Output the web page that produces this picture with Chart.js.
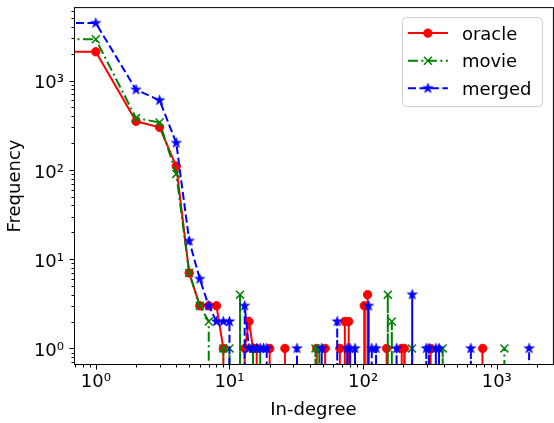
<!DOCTYPE html>
<html>
<head>
<meta charset="utf-8">
<script src="https://cdn.jsdelivr.net/npm/chart.js@4/dist/chart.umd.min.js"></script>
<style>
  html, body { margin: 0; padding: 0; background: #fff; overflow: hidden; }
  #wrap { width: 554px; height: 423px; overflow: hidden; }
  canvas { display: block; }
</style>
</head>
<body>
<div id="wrap"><canvas id="degreeChart" width="560" height="423"></canvas></div>
<script>
// in-degree -> number of nodes, per graph (degrees not listed have frequency 0)
const oracleDegree = [0, 1, 2, 3, 4, 5, 6, 7, 8, 9, 13, 14, 15, 16, 20, 26, 45, 52, 67, 73, 78, 102, 108, 150, 194, 203, 320, 785];
const oracleFreq   = [1500, 2100, 350, 300, 110, 7, 3, 3, 3, 1, 1, 2, 1, 1, 1, 1, 1, 1, 1, 2, 2, 3, 4, 1, 1, 1, 1, 1];

const movieDegree = [0, 1, 2, 3, 4, 5, 6, 7, 9, 10, 12, 15, 17, 44, 47, 153, 164, 232, 394, 1140];
const movieFreq   = [2000, 2900, 380, 340, 90, 7, 3, 2, 1, 1, 4, 1, 1, 1, 1, 4, 2, 1, 1, 1];

const mergedDegree = [0, 1, 2, 3, 4, 5, 6, 7, 8, 9, 10, 13, 14, 15, 16, 17, 18, 19, 32, 49, 64, 76, 80, 87, 110, 116, 125, 178, 233, 297, 311, 350, 370, 640, 1745];
const mergedFreq   = [3500, 4400, 790, 600, 200, 16, 6, 3, 2, 2, 2, 3, 1, 1, 1, 1, 1, 1, 1, 1, 2, 1, 1, 1, 3, 1, 1, 1, 4, 1, 1, 1, 1, 1, 1];

const seriesNames = ['oracle', 'movie', 'merged'];

// axis limits (log scale)
const X_MIN = 0.687, X_MAX = 2630;
const Y_MIN = 0.652, Y_MAX = 6650;

// zero can't sit on a log axis: push it far outside so lines drop straight off the plot
const LOG_FLOOR = 1e-300;
const FONT = { family: 'DejaVu Sans', size: 18 };

function frequencyTable(degrees, freqs) {
  const table = new Array(Math.max(...degrees) + 1).fill(0);
  degrees.forEach((d, i) => { table[d] = freqs[i]; });
  return table.map((c, d) => ({ x: d > 0 ? d : LOG_FLOOR, y: c > 0 ? c : LOG_FLOOR }));
}

function starImage(color, outer) {
  const c = document.createElement('canvas');
  const s = Math.ceil(outer * 2 + 2);
  c.width = c.height = s;
  const g = c.getContext('2d');
  const inner = outer * 0.382;
  g.beginPath();
  for (let i = 0; i < 10; i++) {
    const r = i % 2 ? inner : outer;
    const a = -Math.PI / 2 + i * Math.PI / 5;
    g.lineTo(s / 2 + r * Math.cos(a), s / 2 + r * Math.sin(a));
  }
  g.closePath();
  g.fillStyle = color;
  g.fill();
  g.strokeStyle = color;
  g.lineWidth = 0.8;
  g.stroke();
  return c;
}

const supDigits = { '-': '⁻', '0': '⁰', '1': '¹', '2': '²', '3': '³', '4': '⁴', '5': '⁵' };
function powerLabel(v) {
  const e = Math.log10(v);
  if (Math.abs(e - Math.round(e)) > 1e-9) return '';
  return '10' + String(Math.round(e)).split('').map(ch => supDigits[ch]).join('');
}

function logTicks(min, max) {
  const ticks = [];
  for (let k = Math.floor(Math.log10(min)); k <= Math.ceil(Math.log10(max)); k++) {
    for (let m = 1; m <= 9; m++) {
      const v = m * Math.pow(10, k);
      if (v >= min && v <= max) ticks.push({ value: v, major: m === 1 });
    }
  }
  return ticks;
}

const styles = [
  { color: '#ff0000', dash: [], pointStyle: 'circle', radius: 4.2, borderWidth: 1 },
  { color: '#008000', dash: [10, 3.5, 2, 3.5], pointStyle: 'crossRot', radius: 5.6, borderWidth: 1.5 },
  { color: '#0000ff', dash: [8, 3.5], pointStyle: starImage('#0000ff', 5.2), radius: 5, borderWidth: 1 }
];

const tables = [
  frequencyTable(oracleDegree, oracleFreq),
  frequencyTable(movieDegree, movieFreq),
  frequencyTable(mergedDegree, mergedFreq)
];

const datasets = tables.map((data, i) => ({
  label: seriesNames[i],
  data: data,
  order: 3 - i,
  borderColor: styles[i].color,
  backgroundColor: styles[i].color,
  borderWidth: 2,
  borderDash: styles[i].dash,
  pointStyle: styles[i].pointStyle,
  pointBorderWidth: styles[i].borderWidth,
  pointRadius: ctx => (ctx.raw && ctx.raw.y > 1e-200 && ctx.raw.x > 1e-200 ? styles[i].radius : 0),
  tension: 0
}));

// box round the plot plus log tick marks
const frameAndTicks = {
  id: 'frameAndTicks',
  afterDatasetsDraw(chart) {
    const { ctx, chartArea: a, scales } = chart;
    ctx.save();
    ctx.strokeStyle = '#000';
    ctx.lineWidth = 1;
    ctx.strokeRect(a.left + 0.5, a.top + 0.5, a.right - a.left, a.bottom - a.top - 1);
    ctx.beginPath();
    scales.x.ticks.forEach(t => {
      const px = Math.round(scales.x.getPixelForValue(t.value)) + 0.5;
      ctx.moveTo(px, a.bottom);
      ctx.lineTo(px, a.bottom + (t.major ? 4.5 : 2.5));
    });
    scales.y.ticks.forEach(t => {
      const py = Math.round(scales.y.getPixelForValue(t.value)) + 0.5;
      ctx.moveTo(a.left, py);
      ctx.lineTo(a.left - (t.major ? 4.5 : 2.5), py);
    });
    ctx.stroke();
    ctx.restore();
  }
};

const legendBox = {
  id: 'legendBox',
  afterDraw(chart) {
    const { ctx, chartArea: a } = chart;
    const w = 140, h = 89;
    const x0 = a.right - 11 - w, y0 = a.top + 10;
    ctx.save();
    ctx.beginPath();
    ctx.roundRect(x0 + 0.5, y0 + 0.5, w, h, 4);
    ctx.fillStyle = 'rgba(255,255,255,0.8)';
    ctx.fill();
    ctx.strokeStyle = '#cccccc';
    ctx.lineWidth = 1;
    ctx.stroke();
    seriesNames.forEach((name, i) => {
      const st = styles[i];
      const cy = y0 + 16 + i * 27.6;
      ctx.strokeStyle = st.color;
      ctx.fillStyle = st.color;
      ctx.lineWidth = 2;
      ctx.setLineDash(st.dash);
      ctx.beginPath();
      ctx.moveTo(x0 + 6, cy);
      ctx.lineTo(x0 + 46, cy);
      ctx.stroke();
      ctx.setLineDash([]);
      ctx.lineWidth = st.borderWidth;
      Chart.helpers.drawPoint(ctx, { pointStyle: st.pointStyle, radius: st.radius, rotation: 0, borderWidth: st.borderWidth }, x0 + 26, cy);
      ctx.fillStyle = '#000';
      ctx.font = '18px "DejaVu Sans"';
      ctx.textBaseline = 'alphabetic';
      ctx.fillText(name, x0 + 60, cy + 6.5);
    });
    ctx.restore();
  }
};

function noPadding(s) {
  s.paddingTop = 0; s.paddingBottom = 0; s.paddingLeft = 0; s.paddingRight = 0;
}

new Chart(document.getElementById('degreeChart'), {
  type: 'line',
  data: { datasets },
  options: {
    responsive: false,
    animation: false,
    events: [],
    devicePixelRatio: 1,
    layout: { padding: { left: 0, top: 5, right: 3, bottom: 0 } },
    plugins: { legend: { display: false }, tooltip: { enabled: false } },
    scales: {
      x: {
        type: 'logarithmic',
        min: X_MIN,
        max: X_MAX,
        afterBuildTicks: s => { s.ticks = logTicks(s.min, s.max); },
        afterFit: s => { s.height = 58; noPadding(s); },
        grid: { display: false, drawTicks: false },
        border: { display: false },
        ticks: { autoSkip: false, maxRotation: 0, padding: 7, color: '#000', font: FONT, callback: v => powerLabel(v) },
        title: { display: true, text: 'In-degree', color: '#000', font: FONT, padding: { top: 0, bottom: 2 } }
      },
      y: {
        type: 'logarithmic',
        min: Y_MIN,
        max: Y_MAX,
        afterBuildTicks: s => { s.ticks = logTicks(s.min, s.max); },
        afterFit: s => { s.width = 74; noPadding(s); },
        grid: { display: false, drawTicks: false },
        border: { display: false },
        ticks: { autoSkip: false, padding: 10, labelOffset: 3, color: '#000', font: FONT, callback: v => powerLabel(v) },
        title: { display: true, text: 'Frequency', color: '#000', font: FONT, padding: { top: 5, bottom: 0 } }
      }
    }
  },
  plugins: [frameAndTicks, legendBox]
});
</script>
</body>
</html>
